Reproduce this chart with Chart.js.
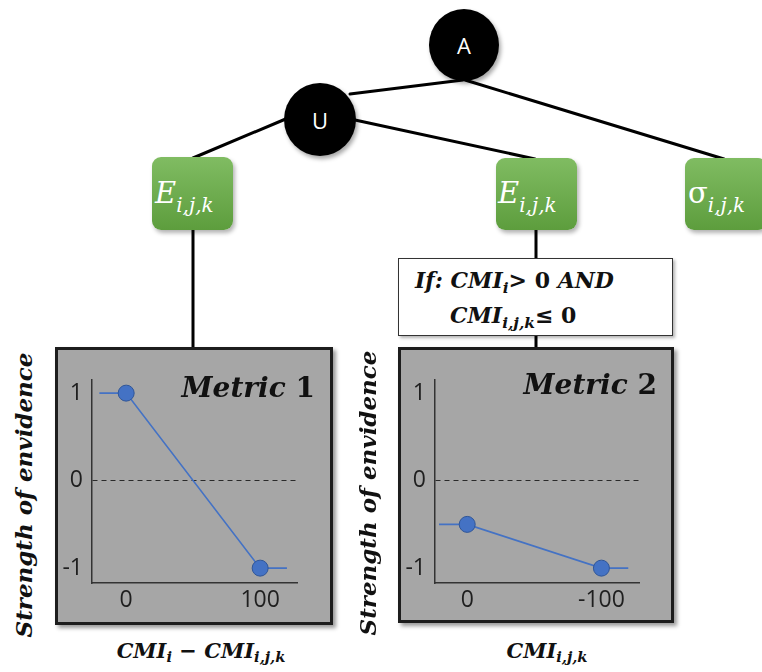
<!DOCTYPE html>
<html><head><meta charset="utf-8">
<script src="https://cdn.jsdelivr.net/npm/chart.js@4.4.1/dist/chart.umd.min.js"></script>
<style>
html,body{margin:0;padding:0;background:#fff;}
#wrap{position:relative;width:762px;height:672px;overflow:hidden;background:#fff;}
.node{position:absolute;border-radius:50%;background:#000;color:#fff;font-family:"Open Sans",sans-serif;font-size:22px;display:flex;align-items:center;justify-content:center;box-shadow:2px 3px 4px rgba(0,0,0,.35);}
.green{position:absolute;border-radius:9px;background:linear-gradient(#80bc62,#5d9d3d);box-shadow:2px 3px 4px rgba(0,0,0,.3);}
.gtxt{position:absolute;color:#fff;font-family:"DejaVu Serif",serif;font-style:italic;font-size:29px;line-height:29px;white-space:nowrap;}
.gtxt sub{font-size:20px;vertical-align:-9px;line-height:0;}
.gtxt .up{font-style:normal;}
.panel{position:absolute;background:#a6a6a6;border:3px solid #1d1d1d;box-sizing:border-box;box-shadow:3px 3px 4px rgba(0,0,0,.4);}
.ifbox{position:absolute;background:#fff;border:1.5px solid #333;box-sizing:border-box;box-shadow:2px 2px 3px rgba(0,0,0,.3);}
.math{position:absolute;font-family:"DejaVu Serif",serif;font-weight:bold;font-style:italic;color:#111;white-space:nowrap;line-height:1;}
.math sub{font-size:0.7em;vertical-align:-0.3em;line-height:0;}
.math .up{font-style:normal;}
.ctr{width:300px;text-align:center;}
.ytitle{position:absolute;width:300px;height:28px;line-height:28px;text-align:center;transform:rotate(-90deg);font-family:"DejaVu Serif",serif;font-weight:bold;font-style:italic;font-size:23px;color:#111;white-space:nowrap;}
canvas{position:absolute;}
</style>
</head><body>
<div id="wrap">
<svg width="762" height="672" style="position:absolute;left:0;top:0">
  <g stroke="#000" stroke-width="3" stroke-linecap="round">
    <line x1="350" y1="94" x2="463" y2="80"/>
    <line x1="465" y1="80" x2="724" y2="159"/>
    <line x1="288" y1="118" x2="193" y2="158"/>
    <line x1="355" y1="120" x2="535" y2="159"/>
    <line x1="193" y1="229" x2="193" y2="348"/>
    <line x1="536" y1="230" x2="536" y2="259"/>
    <line x1="536" y1="335" x2="536" y2="348"/>
  </g>
</svg>
<div class="node" style="left:429px;top:9px;width:70px;height:72px;">A</div>
<div class="node" style="left:284px;top:83px;width:72px;height:73px;">U</div>

<div class="green" style="left:152px;top:157px;width:81px;height:73px;"></div>
<div class="gtxt" style="left:155px;top:179px;">E<sub>i,j,k</sub></div>
<div class="green" style="left:496px;top:158px;width:81px;height:72px;"></div>
<div class="gtxt" style="left:498px;top:179px;">E<sub>i,j,k</sub></div>
<div class="green" style="left:685px;top:158px;width:82px;height:72px;"></div>
<div class="gtxt" style="left:688px;top:179px;"><span class="up">σ</span><sub>i,j,k</sub></div>

<div class="ifbox" style="left:398px;top:258px;width:275px;height:78px;"></div>
<div class="math" style="left:415px;top:269px;font-size:22px;">If: CMI<sub>i</sub>&gt; <span class="up">0</span> AND</div>
<div class="math" style="left:450px;top:304px;font-size:22px;">CMI<sub>i,j,k</sub>≤ <span class="up">0</span></div>

<div class="panel" style="left:55px;top:347px;width:278px;height:278px;"></div>
<div class="panel" style="left:398px;top:347px;width:276px;height:276px;"></div>
<canvas id="c1" width="278" height="278" style="left:55px;top:347px;"></canvas>
<canvas id="c2" width="276" height="276" style="left:398px;top:347px;"></canvas>

<div class="math" style="right:447px;top:374px;font-size:28px;">Metric <span class="up">1</span></div>
<div class="math" style="right:105px;top:371px;font-size:28px;">Metric <span class="up">2</span></div>

<div class="ytitle" style="left:-126px;top:481px;">Strength of envidence</div>
<div class="ytitle" style="left:218px;top:479px;">Strength of envidence</div>

<div class="math ctr" style="left:51px;top:640px;font-size:21px;">CMI<sub>i</sub> − CMI<sub>i,j,k</sub></div>
<div class="math ctr" style="left:397px;top:640px;font-size:21px;">CMI<sub>i,j,k</sub></div>
</div>
<script>
// ---- data ----
const yTickValues = [-1, 0, 1];
const metric1X = [-20, 0, 100, 120];
const metric1Y = [1, 1, -1, -1];
const metric1XTicks = [0, 100];
const metric2X = [21, 0, -100, -120];
const metric2Y = [-0.5, -0.5, -1, -1];
const metric2XTicks = [0, -100];
const markerRadius = [0, 8, 8, 0];

function makeChart(id, xs, ys, xTicks, xmin, xmax, reverse, pad) {
  return new Chart(document.getElementById(id), {
    type: 'line',
    data: { datasets: [{
      data: xs.map((x, i) => ({ x: x, y: ys[i] })),
      borderColor: '#4472c4', borderWidth: 1.6,
      pointRadius: markerRadius, pointHoverRadius: markerRadius,
      pointBackgroundColor: '#4472c4', pointBorderColor: '#2f5597', pointBorderWidth: 1,
      tension: 0, clip: false
    }]},
    options: {
      responsive: false, animation: false, devicePixelRatio: 1,
      layout: { padding: { top: pad.top, right: pad.right, left: 0, bottom: 0 } },
      plugins: { legend: { display: false }, tooltip: { enabled: false } },
      scales: {
        x: {
          type: 'linear', min: xmin, max: xmax, reverse: reverse,
          afterFit: s => { s.height = pad.bottom; },
          afterBuildTicks: s => { s.ticks = xTicks.map(v => ({ value: v })); },
          grid: { display: false, drawTicks: false },
          border: { display: true, color: '#333', width: 1.5 },
          ticks: { padding: 4, color: '#1f1f1f', maxRotation: 0, autoSkip: false,
                   font: { family: 'Open Sans', size: 23 }, callback: v => String(v) }
        },
        y: {
          type: 'linear', min: -1.17, max: 1.15,
          afterFit: s => { s.width = pad.left; },
          afterBuildTicks: s => { s.ticks = yTickValues.map(v => ({ value: v })); },
          grid: { drawTicks: false, lineWidth: 1,
                  color: c => (c.tick && c.tick.value === 0) ? '#2a2a2a' : 'rgba(0,0,0,0)' },
          border: { display: true, color: '#333', width: 1.5, dash: [5, 4] },
          ticks: { padding: 9, color: '#1f1f1f', autoSkip: false,
                   font: { family: 'Open Sans', size: 23 }, callback: v => String(v) }
        }
      }
    }
  });
}
makeChart('c1', metric1X, metric1Y, metric1XTicks, -25.5, 127.5, false, { top: 33, right: 36, left: 37, bottom: 42 });
makeChart('c2', metric2X, metric2Y, metric2XTicks, -128, 24, true, { top: 33, right: 35, left: 37, bottom: 40 });
</script>
</body></html>
